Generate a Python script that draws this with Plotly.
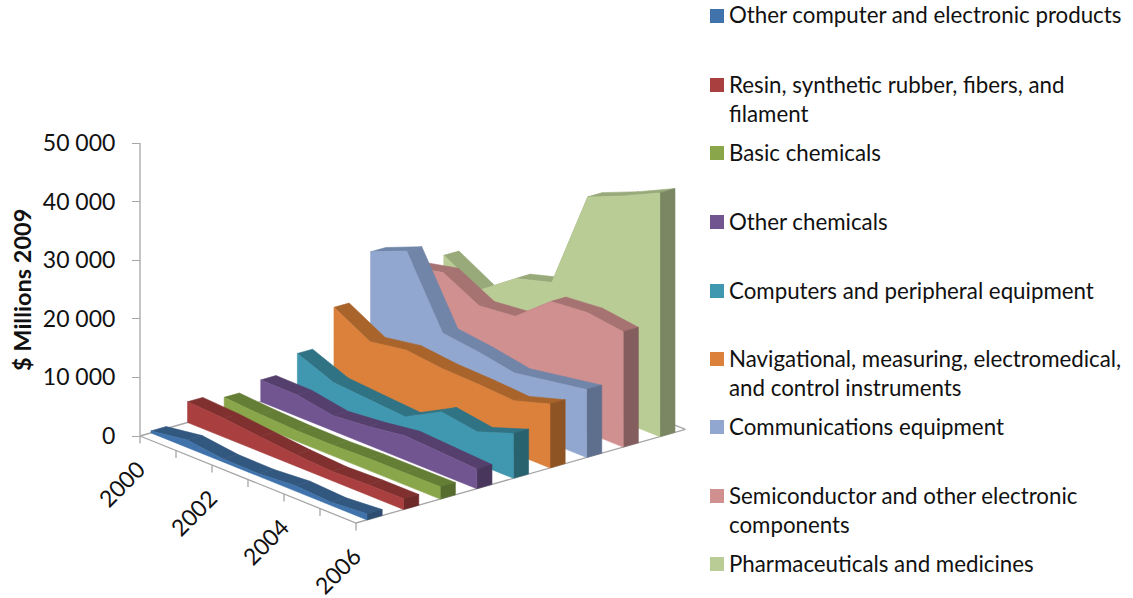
import plotly.graph_objects as go

years = [2000, 2001, 2002, 2003, 2004, 2005, 2006]
series_names = [
    "Other computer and electronic products",
    "Resin, synthetic rubber, fibers, and<br>filament",
    "Basic chemicals",
    "Other chemicals",
    "Computers and peripheral equipment",
    "Navigational, measuring, electromedical,<br>and control instruments",
    "Communications equipment",
    "Semiconductor and other electronic<br>components",
    "Pharmaceuticals and medicines",
]
other_computer = [340, 1280, 510, 430, 900, 550, 1030]
resin = [3540, 3200, 2550, 1970, 1590, 1800, 1830]
basic_chem = [2520, 2085, 1820, 1800, 2000, 2030, 2100]
other_chem = [3720, 3650, 2570, 3200, 4100, 3730, 3370]
computers = [6450, 3970, 3500, 3050, 6390, 5450, 7650]
navigational = [12550, 9160, 10220, 9550, 9370, 8990, 10900]
communications = [20250, 22860, 11350, 10580, 9470, 10530, 11600]
semiconductor = [16000, 17400, 14200, 14900, 19900, 20500, 19700]
pharma = [16100, 12640, 17100, 18900, 35960, 38600, 41600]
all_values = [other_computer, resin, basic_chem, other_chem, computers,
              navigational, communications, semiconductor, pharma]

front_colors = ["#4073AB", "#A9403F", "#8AA64A", "#715590", "#3F97B0",
                "#DB813B", "#92A7D0", "#D09090", "#BACC96"]
top_colors = ["#33587F", "#80302F", "#657E36", "#553F6D", "#2F7385",
              "#A9642B", "#7085A8", "#A67272", "#98A97A"]
side_colors = ["#2C4D70", "#6E2929", "#566B2E", "#48365D", "#28626F",
               "#8E5424", "#5E6F8E", "#845E5E", "#7A8762"]

tick_vals = [0, 10000, 20000, 30000, 40000, 50000]
tick_text = ["0", "10 000", "20 000", "30 000", "40 000", "50 000"]

# chart frame in window pixels
W, H = 1133, 598
AX_X, AX_ZERO, AX_TOP = 140.0, 436.0, 143.0
K = (AX_ZERO - AX_TOP) / 50000.0      # px per $M
YEAR_DX, YEAR_DY = 36.0, 14.5
SER_DX, SER_DY = 36.6, -10.4
FRONT, DEPTH = 0.3, 0.415
FONT = "Lato"
TEXT = "#111111"
AXIS = "#A6A6A6"


def px(yr, s):
    return AX_X + YEAR_DX * yr + SER_DX * s


def py(yr, s, v=0.0):
    return v - (YEAR_DY * yr + SER_DY * s) / K


fig = go.Figure()


def poly(xs, ys, color, name):
    fig.add_trace(go.Scatter(x=xs, y=ys, mode="lines", fill="toself",
                             fillcolor=color, line=dict(color=color, width=0.6),
                             name=name.replace("<br>", " "), showlegend=False,
                             hoverinfo="name"))


def line(xs, ys, width=1.3):
    fig.add_trace(go.Scatter(x=xs, y=ys, mode="lines", showlegend=False,
                             hoverinfo="skip",
                             line=dict(color=AXIS, width=width)))


n = len(years) - 1
ns = len(all_values)
line([AX_X, AX_X], [0, tick_vals[-1]])
line([px(0, 0), px(n, 0), px(n, ns), px(0, ns), px(0, 0)],
     [py(0, 0), py(n, 0), py(n, ns), py(0, ns), py(0, 0)])
for i in range(len(years)):
    line([px(i, 0), px(i, 0)], [py(i, 0), py(i, 0) - 7.5 / K])

for i in reversed(range(ns)):
    vals = all_values[i]
    s0, s1 = i + FRONT, i + FRONT + DEPTH
    name = series_names[i]
    for j in range(n):
        poly([px(j, s0), px(j + 1, s0), px(j + 1, s1), px(j, s1), px(j, s0)],
             [py(j, s0, vals[j]), py(j + 1, s0, vals[j + 1]),
              py(j + 1, s1, vals[j + 1]), py(j, s1, vals[j]),
              py(j, s0, vals[j])], top_colors[i], name)
    poly([px(n, s0), px(n, s1), px(n, s1), px(n, s0), px(n, s0)],
         [py(n, s0), py(n, s1), py(n, s1, vals[n]), py(n, s0, vals[n]), py(n, s0)],
         side_colors[i], name)
    fx = [px(j, s0) for j in range(n + 1)]
    fy = [py(j, s0, vals[j]) for j in range(n + 1)]
    poly(fx + [px(n, s0), px(0, s0), fx[0]],
         fy + [py(n, s0), py(0, s0), fy[0]], front_colors[i], name)

fig.update_layout(
    width=W, height=H, autosize=False,
    margin=dict(l=0, r=0, t=0, b=0, autoexpand=False),
    paper_bgcolor="white", plot_bgcolor="white",
    showlegend=False,
    font=dict(family=FONT, size=22, color=TEXT),
    xaxis=dict(range=[0, W], visible=False, domain=[0, 1], fixedrange=True),
    yaxis=dict(
        range=[(AX_ZERO - H) / K, AX_ZERO / K], domain=[0, 1],
        anchor="free", position=AX_X / W, side="left",
        tickvals=tick_vals, ticktext=tick_text, ticks="outside", ticklen=8,
        tickwidth=1.3, tickcolor=AXIS, showline=False,
        showgrid=False, zeroline=False, fixedrange=True, automargin=False,
        tickfont=dict(family=FONT, size=23, color=TEXT),
        ticklabelstandoff=12,
    ),
)

annotations = []
annotations.append(dict(text="<b>$ Millions 2009</b>", xref="paper", yref="paper",
                        x=22 / W, y=(H - 290) / H, textangle=-90, showarrow=False,
                        font=dict(family=FONT, size=23.5, color=TEXT),
                        xanchor="center", yanchor="middle"))
for i, yr in enumerate(years):
    if yr % 2 == 0:
        annotations.append(dict(text=str(yr), x=px(i, 0) - 19,
                                y=py(i, 0) - 48 / K, xref="x", yref="y",
                                textangle=-45, showarrow=False,
                                font=dict(family=FONT, size=23, color=TEXT)))
legend_y = [16, 85, 153, 222, 291, 359, 427, 496, 564]
shapes = []
for name, c, ly in zip(series_names, front_colors, legend_y):
    shapes.append(dict(type="rect", xref="paper", yref="paper",
                       x0=710 / W, x1=724 / W, y0=(H - ly - 7) / H, y1=(H - ly + 7) / H,
                       fillcolor=c, line=dict(width=0)))
    annotations.append(dict(text=name, xref="paper", yref="paper",
                            x=727 / W, y=(H - ly + 16.5) / H, xanchor="left",
                            yanchor="top", align="left", showarrow=False,
                            font=dict(family=FONT, size=22.3, color=TEXT)))
fig.update_layout(annotations=annotations, shapes=shapes)
fig.write_html("out.html", default_width=f"{W}px", default_height=f"{H}px",
               config={"displayModeBar": False},
               post_script="document.body.style.margin='0';")
